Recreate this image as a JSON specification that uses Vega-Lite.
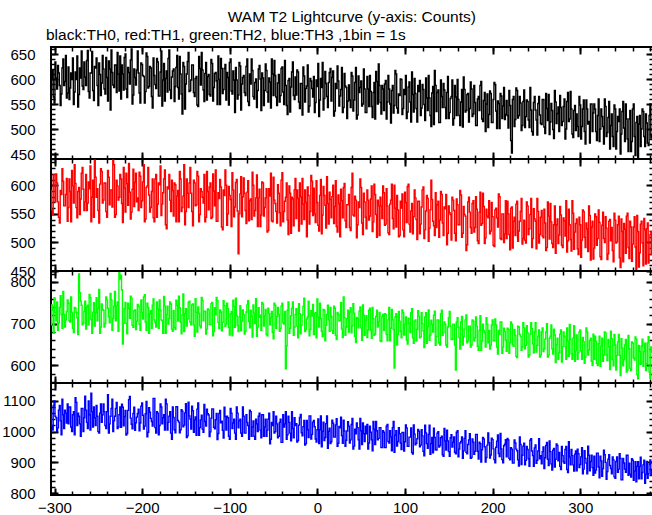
{"$schema":"https://vega.github.io/schema/vega-lite/v6.json","background":"white","padding":{"left":0,"top":10,"right":2,"bottom":2},
"title":{"text":"WAM T2 Lightcurve (y-axis: Counts)","anchor":"middle","offset":1,"dx":24},
"data":{"values":[
{"t":-304,"a":574,"b":591,"c":697,"d":1060},{"t":-302,"a":617,"b":549,"c":732,"d":1005},{"t":-300,"a":552,"b":599,"c":762,"d":1100},{"t":-298,"a":602,"b":620,"c":707,"d":1045},{"t":-296,"a":627,"b":571,"c":684,"d":1012},{"t":-294,"a":587,"b":534,"c":739,"d":1085},{"t":-292,"a":570,"b":584,"c":722,"d":990},{"t":-290,"a":640,"b":607,"c":777,"d":1055},{"t":-288,"a":595,"b":564,"c":692,"d":1070},{"t":-286,"a":562,"b":612,"c":729,"d":1028},
{"t":-284,"a":624,"b":561,"c":749,"d":1025},{"t":-282,"a":582,"b":589,"c":704,"d":1080},{"t":-280,"a":599,"b":626,"c":727,"d":1000},{"t":-278,"a":549,"b":569,"c":679,"d":1065},{"t":-276,"a":614,"b":603,"c":737,"d":1110},{"t":-274,"a":646,"b":543,"c":714,"d":1020},{"t":-272,"a":569,"b":596,"c":819,"d":1050},{"t":-270,"a":602,"b":576,"c":754,"d":985},{"t":-268,"a":586,"b":631,"c":697,"d":1075},{"t":-266,"a":634,"b":556,"c":729,"d":1045},
{"t":-264,"a":587,"b":619,"c":687,"d":1070},{"t":-262,"a":657,"b":569,"c":744,"d":1010},{"t":-260,"a":562,"b":594,"c":770,"d":1055},{"t":-258,"a":612,"b":536,"c":710,"d":1125},{"t":-256,"a":577,"b":609,"c":727,"d":1015},{"t":-254,"a":625,"b":644,"c":694,"d":1045},{"t":-252,"a":642,"b":579,"c":762,"d":1085},{"t":-250,"a":547,"b":556,"c":737,"d":1000},{"t":-248,"a":609,"b":602,"c":677,"d":1060},{"t":-246,"a":592,"b":624,"c":747,"d":1030},
{"t":-244,"a":620,"b":574,"c":732,"d":1090},{"t":-242,"a":570,"b":604,"c":700,"d":1020},{"t":-240,"a":603,"b":544,"c":757,"d":1065},{"t":-238,"a":636,"b":614,"c":717,"d":995},{"t":-236,"a":538,"b":592,"c":772,"d":1050},{"t":-234,"a":613,"b":562,"c":684,"d":1105},{"t":-232,"a":583,"b":636,"c":742,"d":1035},{"t":-230,"a":628,"b":549,"c":707,"d":1075},{"t":-228,"a":653,"b":599,"c":752,"d":1010},{"t":-226,"a":576,"b":579,"c":822,"d":1055},
{"t":-224,"a":560,"b":611,"c":816,"d":1014},{"t":-222,"a":610,"b":535,"c":651,"d":1079},{"t":-220,"a":643,"b":595,"c":736,"d":1049},{"t":-218,"a":580,"b":621,"c":701,"d":989},{"t":-216,"a":623,"b":565,"c":749,"d":1069},{"t":-214,"a":590,"b":588,"c":713,"d":1114},{"t":-212,"a":660,"b":553,"c":761,"d":1024},{"t":-210,"a":568,"b":628,"c":691,"d":1059},{"t":-208,"a":603,"b":605,"c":733,"d":1004},{"t":-206,"a":618,"b":571,"c":706,"d":1047},
{"t":-204,"a":612,"b":556,"c":741,"d":1073},{"t":-202,"a":552,"b":616,"c":684,"d":1028},{"t":-200,"a":629,"b":573,"c":727,"d":1093},{"t":-198,"a":605,"b":636,"c":764,"d":1008},{"t":-196,"a":575,"b":541,"c":704,"d":1058},{"t":-194,"a":645,"b":599,"c":749,"d":983},{"t":-192,"a":585,"b":583,"c":677,"d":1078},{"t":-190,"a":622,"b":561,"c":731,"d":1043},{"t":-188,"a":542,"b":611,"c":744,"d":1018},{"t":-186,"a":607,"b":536,"c":709,"d":1108},
{"t":-184,"a":581,"b":619,"c":692,"d":995},{"t":-182,"a":634,"b":567,"c":735,"d":1060},{"t":-180,"a":566,"b":601,"c":757,"d":1020},{"t":-178,"a":656,"b":547,"c":709,"d":1080},{"t":-176,"a":598,"b":587,"c":677,"d":1045},{"t":-174,"a":556,"b":627,"c":742,"d":1005},{"t":-172,"a":616,"b":524,"c":722,"d":1090},{"t":-170,"a":641,"b":594,"c":699,"d":1030},{"t":-168,"a":578,"b":574,"c":752,"d":1065},{"t":-166,"a":604,"b":609,"c":687,"d":975},
{"t":-164,"a":620,"b":546,"c":731,"d":1046},{"t":-162,"a":585,"b":601,"c":686,"d":996},{"t":-160,"a":647,"b":581,"c":744,"d":1081},{"t":-158,"a":560,"b":536,"c":766,"d":1031},{"t":-156,"a":610,"b":611,"c":704,"d":1006},{"t":-154,"a":530,"b":561,"c":721,"d":1066},{"t":-152,"a":625,"b":636,"c":681,"d":1021},{"t":-150,"a":590,"b":554,"c":736,"d":1091},{"t":-148,"a":635,"b":586,"c":711,"d":986},{"t":-146,"a":575,"b":604,"c":754,"d":1051},
{"t":-144,"a":598,"b":586,"c":697,"d":1008},{"t":-142,"a":628,"b":529,"c":747,"d":1068},{"t":-140,"a":565,"b":604,"c":670,"d":1038},{"t":-138,"a":605,"b":566,"c":727,"d":988},{"t":-136,"a":545,"b":616,"c":740,"d":1093},{"t":-134,"a":621,"b":549,"c":695,"d":1013},{"t":-132,"a":653,"b":589,"c":763,"d":1053},{"t":-130,"a":578,"b":569,"c":707,"d":998},{"t":-128,"a":611,"b":536,"c":730,"d":1033},{"t":-126,"a":558,"b":624,"c":687,"d":1073},
{"t":-124,"a":609,"b":557,"c":733,"d":1054},{"t":-122,"a":566,"b":604,"c":698,"d":999},{"t":-120,"a":631,"b":544,"c":751,"d":1074},{"t":-118,"a":583,"b":590,"c":681,"d":1014},{"t":-116,"a":613,"b":627,"c":721,"d":1039},{"t":-114,"a":549,"b":537,"c":755,"d":974},{"t":-112,"a":599,"b":577,"c":688,"d":1059},{"t":-110,"a":641,"b":597,"c":728,"d":1029},{"t":-108,"a":571,"b":522,"c":703,"d":1004},{"t":-106,"a":621,"b":582,"c":743,"d":1079},
{"t":-104,"a":558,"b":600,"c":699,"d":1005},{"t":-102,"a":603,"b":550,"c":736,"d":1045},{"t":-100,"a":633,"b":582,"c":673,"d":975},{"t":-98,"a":576,"b":528,"c":729,"d":1060},{"t":-96,"a":616,"b":592,"c":756,"d":1028},{"t":-94,"a":533,"b":562,"c":691,"d":995},{"t":-92,"a":598,"b":610,"c":719,"d":1080},{"t":-90,"a":568,"b":480,"c":681,"d":1012},{"t":-88,"a":626,"b":585,"c":743,"d":1040},{"t":-86,"a":590,"b":545,"c":706,"d":985},
{"t":-84,"a":607,"b":613,"c":722,"d":1050},{"t":-82,"a":567,"b":556,"c":682,"d":995},{"t":-80,"a":640,"b":588,"c":745,"d":1030},{"t":-78,"a":547,"b":538,"c":705,"d":975},{"t":-76,"a":590,"b":576,"c":732,"d":1065},{"t":-74,"a":617,"b":623,"c":668,"d":1015},{"t":-72,"a":560,"b":546,"c":725,"d":985},{"t":-70,"a":600,"b":578,"c":760,"d":1040},{"t":-68,"a":577,"b":528,"c":692,"d":1000},{"t":-66,"a":627,"b":593,"c":715,"d":1060},
{"t":-64,"a":537,"b":548,"c":684,"d":980},{"t":-62,"a":602,"b":604,"c":747,"d":1055},{"t":-60,"a":577,"b":561,"c":719,"d":1015},{"t":-58,"a":617,"b":594,"c":674,"d":985},{"t":-56,"a":554,"b":521,"c":737,"d":1040},{"t":-54,"a":594,"b":581,"c":697,"d":960},{"t":-52,"a":640,"b":538,"c":729,"d":1030},{"t":-50,"a":567,"b":614,"c":664,"d":1065},{"t":-48,"a":607,"b":568,"c":744,"d":1000},{"t":-46,"a":547,"b":534,"c":717,"d":1025},
{"t":-44,"a":609,"b":586,"c":722,"d":985},{"t":-42,"a":567,"b":529,"c":689,"d":1040},{"t":-40,"a":624,"b":622,"c":749,"d":965},{"t":-38,"a":549,"b":554,"c":699,"d":1015},{"t":-36,"a":587,"b":579,"c":592,"d":1065},{"t":-34,"a":529,"b":539,"c":732,"d":990},{"t":-32,"a":601,"b":599,"c":677,"d":1030},{"t":-30,"a":584,"b":516,"c":719,"d":970},{"t":-28,"a":634,"b":576,"c":752,"d":1010},{"t":-26,"a":559,"b":592,"c":692,"d":1045},
{"t":-24,"a":568,"b":542,"c":736,"d":1026},{"t":-22,"a":614,"b":577,"c":666,"d":971},{"t":-20,"a":541,"b":604,"c":724,"d":1046},{"t":-18,"a":591,"b":532,"c":696,"d":996},{"t":-16,"a":624,"b":567,"c":741,"d":1016},{"t":-14,"a":554,"b":592,"c":681,"d":956},{"t":-12,"a":586,"b":510,"c":711,"d":1036},{"t":-10,"a":534,"b":582,"c":754,"d":981},{"t":-8,"a":601,"b":554,"c":686,"d":1051},{"t":-6,"a":581,"b":607,"c":718,"d":991},
{"t":-4,"a":605,"b":595,"c":674,"d":1036},{"t":-2,"a":553,"b":535,"c":726,"d":976},{"t":0,"a":585,"b":570,"c":759,"d":1006},{"t":2,"a":525,"b":520,"c":692,"d":961},{"t":4,"a":601,"b":610,"c":712,"d":1051},{"t":6,"a":633,"b":548,"c":669,"d":1001},{"t":8,"a":561,"b":582,"c":732,"d":971},{"t":10,"a":591,"b":525,"c":696,"d":1026},{"t":12,"a":543,"b":568,"c":744,"d":946},{"t":14,"a":613,"b":588,"c":682,"d":1011},
{"t":16,"a":556,"b":543,"c":717,"d":967},{"t":18,"a":616,"b":600,"c":677,"d":1027},{"t":20,"a":536,"b":563,"c":737,"d":982},{"t":22,"a":581,"b":528,"c":662,"d":1042},{"t":24,"a":596,"b":583,"c":722,"d":962},{"t":26,"a":566,"b":510,"c":707,"d":1012},{"t":28,"a":623,"b":573,"c":687,"d":987},{"t":30,"a":543,"b":596,"c":764,"d":1037},{"t":32,"a":586,"b":538,"c":672,"d":952},{"t":34,"a":521,"b":566,"c":712,"d":1002},
{"t":36,"a":588,"b":584,"c":680,"d":1018},{"t":38,"a":543,"b":521,"c":738,"d":973},{"t":40,"a":606,"b":621,"c":695,"d":1043},{"t":42,"a":558,"b":546,"c":725,"d":953},{"t":44,"a":623,"b":574,"c":655,"d":993},{"t":46,"a":528,"b":531,"c":712,"d":1013},{"t":48,"a":573,"b":561,"c":730,"d":943},{"t":50,"a":596,"b":596,"c":690,"d":1003},{"t":52,"a":550,"b":514,"c":745,"d":1028},{"t":54,"a":580,"b":571,"c":672,"d":968},
{"t":56,"a":533,"b":524,"c":719,"d":993},{"t":58,"a":580,"b":574,"c":685,"d":943},{"t":60,"a":607,"b":546,"c":737,"d":1018},{"t":62,"a":545,"b":599,"c":665,"d":973},{"t":64,"a":573,"b":536,"c":712,"d":1033},{"t":66,"a":520,"b":584,"c":675,"d":958},{"t":68,"a":595,"b":509,"c":732,"d":1003},{"t":70,"a":630,"b":564,"c":705,"d":978},{"t":72,"a":553,"b":579,"c":659,"d":1013},{"t":74,"a":587,"b":542,"c":717,"d":948},
{"t":76,"a":537,"b":587,"c":684,"d":998},{"t":78,"a":597,"b":532,"c":722,"d":948},{"t":80,"a":554,"b":564,"c":659,"d":1023},{"t":82,"a":580,"b":514,"c":739,"d":963},{"t":84,"a":512,"b":574,"c":689,"d":983},{"t":86,"a":587,"b":542,"c":709,"d":1013},{"t":88,"a":547,"b":600,"c":594,"d":933},{"t":90,"a":610,"b":527,"c":724,"d":1003},{"t":92,"a":532,"b":557,"c":674,"d":968},{"t":94,"a":567,"b":512,"c":706,"d":993},
{"t":96,"a":599,"b":560,"c":666,"d":942},{"t":98,"a":541,"b":522,"c":726,"d":997},{"t":100,"a":569,"b":588,"c":699,"d":967},{"t":102,"a":521,"b":535,"c":661,"d":1012},{"t":104,"a":584,"b":602,"c":713,"d":952},{"t":106,"a":554,"b":518,"c":679,"d":982},{"t":108,"a":614,"b":568,"c":736,"d":932},{"t":110,"a":534,"b":545,"c":653,"d":1022},{"t":112,"a":571,"b":578,"c":709,"d":957},{"t":114,"a":514,"b":505,"c":686,"d":977},
{"t":116,"a":575,"b":572,"c":718,"d":1001},{"t":118,"a":527,"b":532,"c":668,"d":956},{"t":120,"a":589,"b":592,"c":700,"d":986},{"t":122,"a":549,"b":507,"c":643,"d":921},{"t":124,"a":602,"b":555,"c":726,"d":996},{"t":126,"a":537,"b":577,"c":693,"d":946},{"t":128,"a":562,"b":525,"c":660,"d":1021},{"t":130,"a":505,"b":609,"c":708,"d":961},{"t":132,"a":585,"b":537,"c":680,"d":931},{"t":134,"a":617,"b":512,"c":730,"d":981},
{"t":136,"a":535,"b":526,"c":669,"d":940},{"t":138,"a":578,"b":572,"c":709,"d":1000},{"t":140,"a":513,"b":539,"c":649,"d":955},{"t":142,"a":565,"b":584,"c":732,"d":985},{"t":144,"a":591,"b":512,"c":679,"d":920},{"t":146,"a":543,"b":559,"c":699,"d":970},{"t":148,"a":573,"b":496,"c":644,"d":1005},{"t":150,"a":521,"b":564,"c":714,"d":935},{"t":152,"a":561,"b":549,"c":694,"d":980},{"t":154,"a":598,"b":579,"c":662,"d":950},
{"t":156,"a":521,"b":556,"c":699,"d":983},{"t":158,"a":564,"b":503,"c":589,"d":928},{"t":160,"a":599,"b":566,"c":714,"d":1003},{"t":162,"a":527,"b":531,"c":667,"d":943},{"t":164,"a":554,"b":583,"c":704,"d":968},{"t":166,"a":504,"b":516,"c":649,"d":913},{"t":168,"a":579,"b":549,"c":687,"d":978},{"t":170,"a":537,"b":486,"c":721,"d":933},{"t":172,"a":571,"b":571,"c":659,"d":958},{"t":174,"a":541,"b":553,"c":694,"d":993},
{"t":176,"a":580,"b":516,"c":649,"d":916},{"t":178,"a":530,"b":573,"c":706,"d":966},{"t":180,"a":553,"b":526,"c":666,"d":936},{"t":182,"a":507,"b":558,"c":694,"d":991},{"t":184,"a":565,"b":498,"c":636,"d":911},{"t":186,"a":587,"b":588,"c":719,"d":961},{"t":188,"a":520,"b":533,"c":659,"d":941},{"t":190,"a":557,"b":563,"c":684,"d":976},{"t":192,"a":495,"b":508,"c":644,"d":901},{"t":194,"a":570,"b":546,"c":699,"d":956},
{"t":196,"a":529,"b":573,"c":684,"d":964},{"t":198,"a":571,"b":520,"c":649,"d":924},{"t":200,"a":513,"b":545,"c":709,"d":974},{"t":202,"a":593,"b":493,"c":659,"d":909},{"t":204,"a":536,"b":560,"c":697,"d":949},{"t":206,"a":556,"b":527,"c":627,"d":989},{"t":208,"a":501,"b":580,"c":674,"d":919},{"t":210,"a":566,"b":505,"c":704,"d":944},{"t":212,"a":546,"b":550,"c":644,"d":899},{"t":214,"a":519,"b":515,"c":681,"d":959},
{"t":216,"a":557,"b":507,"c":634,"d":918},{"t":218,"a":502,"b":550,"c":686,"d":973},{"t":220,"a":547,"b":487,"c":654,"d":908},{"t":222,"a":452,"b":562,"c":699,"d":943},{"t":224,"a":565,"b":537,"c":646,"d":898},{"t":226,"a":519,"b":512,"c":672,"d":963},{"t":228,"a":577,"b":572,"c":619,"d":938},{"t":230,"a":527,"b":520,"c":692,"d":888},{"t":232,"a":552,"b":554,"c":669,"d":958},{"t":234,"a":507,"b":497,"c":644,"d":923},
{"t":236,"a":578,"b":539,"c":690,"d":962},{"t":238,"a":525,"b":499,"c":648,"d":907},{"t":240,"a":555,"b":564,"c":678,"d":942},{"t":242,"a":503,"b":524,"c":625,"d":887},{"t":244,"a":538,"b":577,"c":702,"d":977},{"t":246,"a":488,"b":507,"c":652,"d":922},{"t":248,"a":565,"b":541,"c":680,"d":947},{"t":250,"a":518,"b":489,"c":632,"d":897},{"t":252,"a":551,"b":554,"c":670,"d":937},{"t":254,"a":528,"b":514,"c":620,"d":912},
{"t":256,"a":509,"b":556,"c":680,"d":895},{"t":258,"a":559,"b":508,"c":633,"d":950},{"t":260,"a":491,"b":534,"c":663,"d":915},{"t":262,"a":541,"b":491,"c":700,"d":965},{"t":264,"a":569,"b":546,"c":625,"d":890},{"t":266,"a":514,"b":568,"c":670,"d":935},{"t":268,"a":537,"b":498,"c":640,"d":875},{"t":270,"a":481,"b":531,"c":687,"d":945},{"t":272,"a":554,"b":481,"c":607,"d":910},{"t":274,"a":531,"b":541,"c":665,"d":955},
{"t":276,"a":495,"b":513,"c":630,"d":932},{"t":278,"a":543,"b":548,"c":685,"d":877},{"t":280,"a":515,"b":491,"c":645,"d":922},{"t":282,"a":560,"b":538,"c":670,"d":897},{"t":284,"a":500,"b":573,"c":615,"d":952},{"t":286,"a":573,"b":503,"c":658,"d":867},{"t":288,"a":520,"b":531,"c":698,"d":917},{"t":290,"a":540,"b":485,"c":628,"d":942},{"t":292,"a":483,"b":551,"c":665,"d":892},{"t":294,"a":547,"b":518,"c":610,"d":927},
{"t":296,"a":530,"b":541,"c":673,"d":873},{"t":298,"a":485,"b":479,"c":630,"d":928},{"t":300,"a":548,"b":531,"c":685,"d":893},{"t":302,"a":505,"b":504,"c":615,"d":948},{"t":304,"a":558,"b":554,"c":657,"d":878},{"t":306,"a":470,"b":491,"c":620,"d":913},{"t":308,"a":540,"b":524,"c":680,"d":863},{"t":310,"a":515,"b":564,"c":637,"d":923},{"t":312,"a":550,"b":469,"c":665,"d":903},{"t":314,"a":495,"b":537,"c":600,"d":883},
{"t":316,"a":550,"b":490,"c":615,"d":920},{"t":318,"a":495,"b":545,"c":658,"d":875},{"t":320,"a":527,"b":507,"c":600,"d":930},{"t":322,"a":475,"b":535,"c":670,"d":850},{"t":324,"a":540,"b":470,"c":645,"d":905},{"t":326,"a":505,"b":553,"c":610,"d":880},{"t":328,"a":560,"b":500,"c":680,"d":925},{"t":330,"a":485,"b":525,"c":625,"d":845},{"t":332,"a":523,"b":480,"c":662,"d":910},{"t":334,"a":460,"b":540,"c":590,"d":890},
{"t":336,"a":530,"b":526,"c":664,"d":863},{"t":338,"a":465,"b":466,"c":599,"d":908},{"t":340,"a":540,"b":539,"c":649,"d":848},{"t":342,"a":495,"b":501,"c":624,"d":918},{"t":344,"a":515,"b":546,"c":674,"d":878},{"t":346,"a":450,"b":456,"c":576,"d":913},{"t":348,"a":535,"b":519,"c":642,"d":843},{"t":350,"a":502,"b":533,"c":614,"d":898},{"t":352,"a":550,"b":481,"c":662,"d":868},{"t":354,"a":480,"b":551,"c":589,"d":923},
{"t":356,"a":520,"b":472,"c":640,"d":897},{"t":358,"a":455,"b":527,"c":588,"d":852},{"t":360,"a":540,"b":497,"c":653,"d":907},{"t":362,"a":485,"b":545,"c":613,"d":872},{"t":364,"a":513,"b":449,"c":663,"d":837},{"t":366,"a":435,"b":519,"c":568,"d":902},{"t":368,"a":527,"b":482,"c":633,"d":887},{"t":370,"a":500,"b":537,"c":646,"d":847},{"t":372,"a":535,"b":459,"c":598,"d":892},{"t":374,"a":465,"b":522,"c":653,"d":832},
{"t":376,"a":512,"b":524,"c":604,"d":903},{"t":378,"a":467,"b":464,"c":669,"d":863},{"t":380,"a":550,"b":514,"c":569,"d":908},{"t":382,"a":487,"b":479,"c":632,"d":873},
{"t":-303,"a":600,"b":557,"c":745,"d":1020},{"t":-301,"a":564,"b":619,"c":677,"d":1085},{"t":-299,"a":634,"b":571,"c":727,"d":1050},{"t":-297,"a":580,"b":604,"c":752,"d":1000},{"t":-295,"a":612,"b":544,"c":702,"d":1070},{"t":-293,"a":547,"b":591,"c":767,"d":1035},{"t":-291,"a":622,"b":629,"c":689,"d":1105},{"t":-289,"a":587,"b":564,"c":722,"d":1010},{"t":-287,"a":647,"b":584,"c":709,"d":1060},{"t":-285,"a":572,"b":537,"c":757,"d":1090},
{"t":-283,"a":559,"b":611,"c":707,"d":1080},{"t":-281,"a":612,"b":536,"c":764,"d":1015},{"t":-279,"a":642,"b":599,"c":689,"d":1055},{"t":-277,"a":574,"b":636,"c":739,"d":990},{"t":-275,"a":599,"b":561,"c":727,"d":1095},{"t":-273,"a":544,"b":589,"c":674,"d":1060},{"t":-271,"a":622,"b":549,"c":774,"d":1025},{"t":-269,"a":656,"b":621,"c":744,"d":1075},{"t":-267,"a":579,"b":593,"c":701,"d":1000},{"t":-265,"a":604,"b":571,"c":754,"d":1115},
{"t":-263,"a":637,"b":556,"c":740,"d":1030},{"t":-261,"a":575,"b":606,"c":697,"d":1100},{"t":-259,"a":612,"b":634,"c":762,"d":1005},{"t":-257,"a":655,"b":579,"c":677,"d":1065},{"t":-255,"a":557,"b":544,"c":750,"d":1080},{"t":-253,"a":622,"b":614,"c":727,"d":1020},{"t":-251,"a":587,"b":594,"c":707,"d":1050},{"t":-249,"a":632,"b":534,"c":782,"d":995},{"t":-247,"a":567,"b":629,"c":692,"d":1090},{"t":-245,"a":647,"b":569,"c":734,"d":1055},
{"t":-243,"a":580,"b":604,"c":692,"d":1065},{"t":-241,"a":643,"b":554,"c":764,"d":1010},{"t":-239,"a":556,"b":626,"c":737,"d":1120},{"t":-237,"a":620,"b":566,"c":702,"d":1025},{"t":-235,"a":658,"b":592,"c":757,"d":1075},{"t":-233,"a":588,"b":644,"c":712,"d":1000},{"t":-231,"a":628,"b":544,"c":777,"d":1050},{"t":-229,"a":573,"b":609,"c":742,"d":1095},{"t":-227,"a":610,"b":574,"c":682,"d":1015},{"t":-225,"a":646,"b":619,"c":807,"d":1080},
{"t":-223,"a":628,"b":568,"c":781,"d":1089},{"t":-221,"a":578,"b":631,"c":701,"d":1019},{"t":-219,"a":650,"b":553,"c":751,"d":1069},{"t":-217,"a":563,"b":603,"c":676,"d":994},{"t":-215,"a":613,"b":638,"c":736,"d":1104},{"t":-213,"a":638,"b":541,"c":766,"d":1044},{"t":-211,"a":550,"b":593,"c":696,"d":1009},{"t":-209,"a":620,"b":563,"c":731,"d":1079},{"t":-207,"a":588,"b":621,"c":686,"d":1029},{"t":-205,"a":656,"b":578,"c":746,"d":1059},
{"t":-203,"a":572,"b":623,"c":699,"d":1003},{"t":-201,"a":632,"b":561,"c":757,"d":1083},{"t":-199,"a":607,"b":606,"c":711,"d":1053},{"t":-197,"a":552,"b":536,"c":769,"d":1018},{"t":-195,"a":652,"b":596,"c":684,"d":1098},{"t":-193,"a":582,"b":631,"c":739,"d":998},{"t":-191,"a":625,"b":553,"c":724,"d":1063},{"t":-189,"a":565,"b":589,"c":689,"d":1033},{"t":-187,"a":642,"b":543,"c":759,"d":1108},{"t":-185,"a":589,"b":611,"c":704,"d":1013},
{"t":-183,"a":641,"b":544,"c":752,"d":1065},{"t":-181,"a":566,"b":604,"c":689,"d":990},{"t":-179,"a":614,"b":634,"c":732,"d":1090},{"t":-177,"a":546,"b":567,"c":707,"d":1025},{"t":-175,"a":631,"b":611,"c":765,"d":1055},{"t":-173,"a":601,"b":531,"c":677,"d":1105},{"t":-171,"a":574,"b":597,"c":742,"d":1005},{"t":-169,"a":658,"b":619,"c":712,"d":1050},{"t":-167,"a":561,"b":554,"c":747,"d":995},{"t":-165,"a":616,"b":591,"c":682,"d":1080},
{"t":-163,"a":555,"b":604,"c":691,"d":1006},{"t":-161,"a":623,"b":536,"c":756,"d":1081},{"t":-159,"a":583,"b":591,"c":706,"d":1036},{"t":-157,"a":645,"b":624,"c":738,"d":996},{"t":-155,"a":570,"b":554,"c":676,"d":1071},{"t":-153,"a":633,"b":581,"c":771,"d":1016},{"t":-151,"a":540,"b":531,"c":724,"d":1061},{"t":-149,"a":610,"b":611,"c":694,"d":981},{"t":-147,"a":653,"b":561,"c":751,"d":1096},{"t":-145,"a":577,"b":631,"c":704,"d":1041},
{"t":-143,"a":628,"b":554,"c":745,"d":1083},{"t":-141,"a":573,"b":609,"c":697,"d":998},{"t":-139,"a":601,"b":564,"c":760,"d":1048},{"t":-137,"a":548,"b":624,"c":680,"d":1073},{"t":-135,"a":645,"b":536,"c":725,"d":988},{"t":-133,"a":588,"b":594,"c":690,"d":1038},{"t":-131,"a":618,"b":579,"c":755,"d":1008},{"t":-129,"a":555,"b":619,"c":730,"d":1088},{"t":-127,"a":633,"b":544,"c":675,"d":1018},{"t":-125,"a":605,"b":589,"c":735,"d":1058},
{"t":-123,"a":569,"b":597,"c":698,"d":984},{"t":-121,"a":639,"b":542,"c":748,"d":1044},{"t":-119,"a":556,"b":620,"c":671,"d":1074},{"t":-117,"a":611,"b":564,"c":738,"d":1009},{"t":-115,"a":596,"b":537,"c":763,"d":1059},{"t":-113,"a":646,"b":587,"c":703,"d":994},{"t":-111,"a":549,"b":610,"c":733,"d":1069},{"t":-109,"a":621,"b":527,"c":683,"d":1034},{"t":-107,"a":579,"b":592,"c":755,"d":979},{"t":-105,"a":629,"b":627,"c":693,"d":1049},
{"t":-103,"a":613,"b":530,"c":749,"d":1050},{"t":-101,"a":548,"b":598,"c":691,"d":985},{"t":-99,"a":640,"b":575,"c":723,"d":1075},{"t":-97,"a":570,"b":622,"c":671,"d":1010},{"t":-95,"a":598,"b":545,"c":741,"d":1040},{"t":-93,"a":623,"b":605,"c":761,"d":975},{"t":-91,"a":560,"b":555,"c":696,"d":1060},{"t":-89,"a":633,"b":550,"c":716,"d":1035},{"t":-87,"a":538,"b":615,"c":683,"d":995},{"t":-85,"a":603,"b":580,"c":733,"d":1080},
{"t":-83,"a":573,"b":586,"c":675,"d":995},{"t":-81,"a":625,"b":533,"c":728,"d":1055},{"t":-79,"a":555,"b":608,"c":755,"d":1020},{"t":-77,"a":610,"b":573,"c":690,"d":1070},{"t":-75,"a":640,"b":540,"c":718,"d":985},{"t":-73,"a":565,"b":600,"c":745,"d":1035},{"t":-71,"a":593,"b":556,"c":700,"d":975},{"t":-69,"a":543,"b":618,"c":670,"d":1025},{"t":-67,"a":620,"b":578,"c":738,"d":1050},{"t":-65,"a":600,"b":528,"c":720,"d":1005},
{"t":-63,"a":612,"b":606,"c":751,"d":1055},{"t":-61,"a":547,"b":546,"c":694,"d":985},{"t":-59,"a":630,"b":578,"c":734,"d":1040},{"t":-57,"a":574,"b":518,"c":671,"d":1005},{"t":-55,"a":602,"b":594,"c":724,"d":1060},{"t":-53,"a":542,"b":621,"c":714,"d":975},{"t":-51,"a":610,"b":536,"c":679,"d":1020},{"t":-49,"a":637,"b":574,"c":749,"d":995},{"t":-47,"a":564,"b":554,"c":689,"d":1050},{"t":-45,"a":592,"b":601,"c":739,"d":980},
{"t":-43,"a":554,"b":552,"c":682,"d":1030},{"t":-41,"a":621,"b":609,"c":742,"d":965},{"t":-39,"a":574,"b":536,"c":702,"d":1055},{"t":-37,"a":637,"b":572,"c":729,"d":1025},{"t":-35,"a":547,"b":604,"c":647,"d":975},{"t":-33,"a":597,"b":514,"c":752,"d":1050},{"t":-31,"a":534,"b":586,"c":689,"d":995},{"t":-29,"a":614,"b":579,"c":737,"d":1065},{"t":-27,"a":567,"b":529,"c":672,"d":980},{"t":-25,"a":604,"b":612,"c":722,"d":1020},
{"t":-23,"a":618,"b":592,"c":694,"d":966},{"t":-21,"a":554,"b":520,"c":748,"d":1021},{"t":-19,"a":591,"b":580,"c":676,"d":1056},{"t":-17,"a":528,"b":612,"c":721,"d":986},{"t":-15,"a":606,"b":540,"c":761,"d":1036},{"t":-13,"a":581,"b":570,"c":686,"d":961},{"t":-11,"a":628,"b":597,"c":716,"d":1006},{"t":-9,"a":546,"b":532,"c":671,"d":1051},{"t":-7,"a":596,"b":617,"c":731,"d":976},{"t":-5,"a":564,"b":547,"c":746,"d":1031},
{"t":-3,"a":533,"b":550,"c":724,"d":1016},{"t":-1,"a":598,"b":608,"c":666,"d":966},{"t":1,"a":631,"b":530,"c":716,"d":1041},{"t":3,"a":558,"b":582,"c":749,"d":1006},{"t":5,"a":583,"b":515,"c":682,"d":951},{"t":7,"a":538,"b":598,"c":734,"d":1031},{"t":9,"a":615,"b":565,"c":659,"d":981},{"t":11,"a":565,"b":615,"c":722,"d":1051},{"t":13,"a":593,"b":532,"c":709,"d":1001},{"t":15,"a":621,"b":575,"c":739,"d":961},
{"t":17,"a":603,"b":580,"c":684,"d":1037},{"t":19,"a":526,"b":533,"c":742,"d":982},{"t":21,"a":591,"b":608,"c":672,"d":1022},{"t":23,"a":626,"b":518,"c":727,"d":952},{"t":25,"a":546,"b":568,"c":707,"d":1017},{"t":27,"a":579,"b":593,"c":750,"d":1047},{"t":29,"a":533,"b":543,"c":667,"d":962},{"t":31,"a":611,"b":603,"c":714,"d":1002},{"t":33,"a":583,"b":526,"c":692,"d":972},{"t":35,"a":556,"b":566,"c":732,"d":1032},
{"t":37,"a":558,"b":526,"c":728,"d":963},{"t":39,"a":613,"b":596,"c":678,"d":1023},{"t":41,"a":536,"b":548,"c":748,"d":943},{"t":43,"a":593,"b":581,"c":670,"d":1008},{"t":45,"a":520,"b":508,"c":715,"d":1028},{"t":47,"a":606,"b":571,"c":690,"d":973},{"t":49,"a":583,"b":611,"c":740,"d":1043},{"t":51,"a":546,"b":534,"c":660,"d":958},{"t":53,"a":620,"b":586,"c":720,"d":993},{"t":55,"a":533,"b":544,"c":708,"d":1018},
{"t":57,"a":605,"b":592,"c":667,"d":1023},{"t":59,"a":545,"b":539,"c":732,"d":963},{"t":61,"a":575,"b":576,"c":685,"d":998},{"t":63,"a":523,"b":519,"c":739,"d":938},{"t":65,"a":593,"b":602,"c":672,"d":1008},{"t":67,"a":615,"b":549,"c":717,"d":1033},{"t":69,"a":550,"b":574,"c":692,"d":973},{"t":71,"a":587,"b":512,"c":727,"d":1013},{"t":73,"a":530,"b":564,"c":657,"d":948},{"t":75,"a":580,"b":599,"c":722,"d":1003},
{"t":77,"a":590,"b":530,"c":724,"d":948},{"t":79,"a":520,"b":594,"c":674,"d":1018},{"t":81,"a":607,"b":517,"c":709,"d":968},{"t":83,"a":550,"b":567,"c":659,"d":1003},{"t":85,"a":577,"b":602,"c":734,"d":938},{"t":87,"a":532,"b":524,"c":686,"d":1033},{"t":89,"a":617,"b":560,"c":716,"d":988},{"t":91,"a":542,"b":582,"c":649,"d":953},{"t":93,"a":570,"b":510,"c":729,"d":1013},{"t":95,"a":600,"b":572,"c":682,"d":963},
{"t":97,"a":529,"b":585,"c":733,"d":997},{"t":99,"a":579,"b":510,"c":673,"d":937},{"t":101,"a":607,"b":570,"c":716,"d":1022},{"t":103,"a":534,"b":598,"c":651,"d":952},{"t":105,"a":594,"b":532,"c":701,"d":982},{"t":107,"a":514,"b":555,"c":726,"d":1012},{"t":109,"a":569,"b":515,"c":666,"d":927},{"t":111,"a":601,"b":592,"c":706,"d":992},{"t":113,"a":541,"b":540,"c":659,"d":962},{"t":115,"a":587,"b":572,"c":731,"d":1007},
{"t":117,"a":597,"b":515,"c":666,"d":951},{"t":119,"a":542,"b":562,"c":726,"d":1006},{"t":121,"a":579,"b":597,"c":683,"d":936},{"t":123,"a":517,"b":522,"c":716,"d":1021},{"t":125,"a":562,"b":582,"c":653,"d":961},{"t":127,"a":607,"b":502,"c":733,"d":991},{"t":129,"a":527,"b":557,"c":673,"d":926},{"t":131,"a":572,"b":575,"c":698,"d":981},{"t":133,"a":509,"b":529,"c":720,"d":1011},{"t":135,"a":587,"b":587,"c":648,"d":941},
{"t":137,"a":573,"b":566,"c":709,"d":995},{"t":139,"a":513,"b":509,"c":654,"d":950},{"t":141,"a":598,"b":589,"c":724,"d":980},{"t":143,"a":543,"b":534,"c":672,"d":925},{"t":145,"a":578,"b":562,"c":704,"d":1010},{"t":147,"a":521,"b":584,"c":649,"d":940},{"t":149,"a":605,"b":516,"c":692,"d":970},{"t":151,"a":533,"b":552,"c":729,"d":920},{"t":153,"a":565,"b":504,"c":662,"d":990},{"t":155,"a":508,"b":574,"c":699,"d":965},
{"t":157,"a":587,"b":516,"c":649,"d":933},{"t":159,"a":527,"b":576,"c":704,"d":998},{"t":161,"a":559,"b":531,"c":691,"d":918},{"t":163,"a":507,"b":591,"c":639,"d":963},{"t":165,"a":579,"b":509,"c":717,"d":983},{"t":167,"a":604,"b":563,"c":669,"d":938},{"t":169,"a":534,"b":546,"c":709,"d":1003},{"t":171,"a":569,"b":496,"c":654,"d":928},{"t":173,"a":514,"b":579,"c":694,"d":973},{"t":175,"a":594,"b":526,"c":644,"d":913},
{"t":177,"a":525,"b":568,"c":709,"d":976},{"t":179,"a":587,"b":518,"c":659,"d":926},{"t":181,"a":507,"b":580,"c":716,"d":991},{"t":183,"a":560,"b":503,"c":646,"d":936},{"t":185,"a":537,"b":553,"c":684,"d":966},{"t":187,"a":595,"b":530,"c":636,"d":901},{"t":189,"a":515,"b":586,"c":699,"d":981},{"t":191,"a":573,"b":498,"c":679,"d":951},{"t":193,"a":550,"b":558,"c":714,"d":916},{"t":195,"a":503,"b":543,"c":654,"d":996},
{"t":197,"a":576,"b":515,"c":639,"d":914},{"t":199,"a":513,"b":570,"c":697,"d":979},{"t":201,"a":559,"b":495,"c":659,"d":944},{"t":203,"a":589,"b":557,"c":711,"d":899},{"t":205,"a":501,"b":543,"c":644,"d":969},{"t":207,"a":551,"b":585,"c":684,"d":929},{"t":209,"a":571,"b":507,"c":704,"d":994},{"t":211,"a":521,"b":550,"c":629,"d":909},{"t":213,"a":583,"b":500,"c":689,"d":954},{"t":215,"a":529,"b":573,"c":661,"d":974},
{"t":217,"a":527,"b":572,"c":689,"d":978},{"t":219,"a":577,"b":514,"c":629,"d":913},{"t":221,"a":477,"b":560,"c":704,"d":948},{"t":223,"a":559,"b":490,"c":649,"d":898},{"t":225,"a":505,"b":544,"c":686,"d":973},{"t":227,"a":582,"b":567,"c":622,"d":943},{"t":229,"a":522,"b":502,"c":694,"d":908},{"t":231,"a":565,"b":537,"c":674,"d":983},{"t":233,"a":497,"b":577,"c":636,"d":893},{"t":235,"a":555,"b":507,"c":702,"d":953},
{"t":237,"a":503,"b":504,"c":640,"d":892},{"t":239,"a":558,"b":571,"c":695,"d":952},{"t":241,"a":518,"b":514,"c":620,"d":912},{"t":243,"a":583,"b":549,"c":675,"d":972},{"t":245,"a":495,"b":491,"c":688,"d":937},{"t":247,"a":553,"b":559,"c":630,"d":887},{"t":249,"a":538,"b":537,"c":702,"d":957},{"t":251,"a":488,"b":577,"c":648,"d":907},{"t":253,"a":565,"b":499,"c":685,"d":977},{"t":255,"a":511,"b":544,"c":625,"d":922},
{"t":257,"a":559,"b":511,"c":690,"d":935},{"t":259,"a":504,"b":558,"c":640,"d":880},{"t":261,"a":571,"b":486,"c":680,"d":955},{"t":263,"a":517,"b":571,"c":620,"d":910},{"t":265,"a":489,"b":506,"c":665,"d":970},{"t":267,"a":551,"b":536,"c":697,"d":895},{"t":269,"a":499,"b":491,"c":627,"d":940},{"t":271,"a":577,"b":564,"c":673,"d":885},{"t":273,"a":511,"b":531,"c":650,"d":960},{"t":275,"a":544,"b":498,"c":615,"d":905},
{"t":277,"a":567,"b":563,"c":675,"d":887},{"t":279,"a":507,"b":495,"c":608,"d":952},{"t":281,"a":545,"b":543,"c":680,"d":902},{"t":283,"a":480,"b":511,"c":645,"d":942},{"t":285,"a":555,"b":483,"c":690,"d":877},{"t":287,"a":515,"b":558,"c":622,"d":967},{"t":289,"a":575,"b":505,"c":662,"d":892},{"t":291,"a":490,"b":573,"c":615,"d":922},{"t":293,"a":537,"b":488,"c":695,"d":872},{"t":295,"a":497,"b":533,"c":635,"d":937},
{"t":297,"a":505,"b":489,"c":615,"d":943},{"t":299,"a":565,"b":544,"c":680,"d":883},{"t":301,"a":480,"b":474,"c":635,"d":918},{"t":303,"a":540,"b":557,"c":667,"d":863},{"t":305,"a":495,"b":509,"c":605,"d":938},{"t":307,"a":558,"b":534,"c":690,"d":898},{"t":309,"a":510,"b":484,"c":625,"d":953},{"t":311,"a":472,"b":547,"c":660,"d":873},{"t":313,"a":550,"b":527,"c":610,"d":923},{"t":315,"a":532,"b":471,"c":675,"d":858},
{"t":317,"a":540,"b":550,"c":670,"d":865},{"t":319,"a":477,"b":495,"c":605,"d":930},{"t":321,"a":560,"b":557,"c":652,"d":885},{"t":323,"a":500,"b":475,"c":598,"d":920},{"t":325,"a":525,"b":530,"c":665,"d":855},{"t":327,"a":470,"b":507,"c":625,"d":940},{"t":329,"a":545,"b":545,"c":678,"d":900},{"t":331,"a":493,"b":470,"c":612,"d":870},{"t":333,"a":555,"b":537,"c":645,"d":925},{"t":335,"a":507,"b":503,"c":682,"d":880},
{"t":337,"a":485,"b":486,"c":614,"d":918},{"t":339,"a":548,"b":551,"c":674,"d":853},{"t":341,"a":460,"b":499,"c":589,"d":903},{"t":343,"a":525,"b":531,"c":656,"d":868},{"t":345,"a":540,"b":473,"c":624,"d":928},{"t":347,"a":490,"b":541,"c":664,"d":843},{"t":349,"a":555,"b":466,"c":599,"d":913},{"t":351,"a":475,"b":523,"c":649,"d":878},{"t":353,"a":520,"b":546,"c":584,"d":923},{"t":355,"a":455,"b":491,"c":672,"d":858},
{"t":357,"a":537,"b":537,"c":593,"d":862},{"t":359,"a":475,"b":467,"c":656,"d":912},{"t":361,"a":550,"b":527,"c":618,"d":842},{"t":363,"a":447,"b":492,"c":668,"d":902},{"t":365,"a":525,"b":547,"c":578,"d":887},{"t":367,"a":510,"b":457,"c":648,"d":847},{"t":369,"a":465,"b":532,"c":603,"d":917},{"t":371,"a":540,"b":499,"c":663,"d":867},{"t":373,"a":485,"b":542,"c":633,"d":907},{"t":375,"a":530,"b":462,"c":588,"d":862},
{"t":377,"a":472,"b":534,"c":654,"d":848},{"t":379,"a":527,"b":479,"c":584,"d":893},{"t":381,"a":482,"b":519,"c":644,"d":858}
]},
"spacing":0,
"bounds":"flush",
"vconcat":[
{"width":602,"height":112,
 "title":{"text":"black:TH0, red:TH1, green:TH2, blue:TH3 ,1bin = 1s","anchor":"start","frame":"group","offset":3,"dx":-5},
 "layer":[
  {"mark":{"type":"line","interpolate":"step","color":"#000000","strokeWidth":1.4,"clip":true},
   "encoding":{"x":{"field":"t","type":"quantitative","scale":{"domain":[-304,383],"nice":false,"zero":false},"axis":{"orient":"bottom","title":null,"values":[-300,-200,-100,0,100,200,300],"tickSize":-7,"tickWidth":2}},
    "y":{"field":"a","type":"quantitative","scale":{"domain":[440,664],"nice":false,"zero":false},"axis":{"orient":"left","title":null,"values":[450,500,550,600,650],"format":"d","tickSize":-7,"tickWidth":2,"labels":true,"labelPadding":23,"minExtent":46,"maxExtent":46}}}},
  {"mark":{"type":"line","opacity":0},
   "encoding":{"x":{"field":"t","type":"quantitative","scale":{"domain":[-304,383],"nice":false,"zero":false},"axis":{"orient":"bottom","title":null,"values":[-300,-280,-260,-240,-220,-200,-180,-160,-140,-120,-100,-80,-60,-40,-20,0,20,40,60,80,100,120,140,160,180,200,220,240,260,280,300,320,340,360,380]}},
    "y":{"field":"a","type":"quantitative","scale":{"domain":[440,664],"nice":false,"zero":false},"axis":{"orient":"left","title":null,"values":[440,450,460,470,480,490,500,510,520,530,540,550,560,570,580,590,600,610,620,630,640,650,660]}}}},
  {"mark":{"type":"line","opacity":0},
   "encoding":{"x":{"field":"t","type":"quantitative","scale":{"domain":[-304,383],"nice":false,"zero":false},"axis":{"orient":"top","title":null,"values":[-300,-200,-100,0,100,200,300],"tickSize":-7,"tickWidth":2}},
    "y":{"field":"a","type":"quantitative","scale":{"domain":[440,664],"nice":false,"zero":false},"axis":{"orient":"right","title":null,"values":[450,500,550,600,650],"tickSize":-7,"tickWidth":2}}}},
  {"mark":{"type":"line","opacity":0},
   "encoding":{"x":{"field":"t","type":"quantitative","scale":{"domain":[-304,383],"nice":false,"zero":false},"axis":{"orient":"top","title":null,"values":[-300,-280,-260,-240,-220,-200,-180,-160,-140,-120,-100,-80,-60,-40,-20,0,20,40,60,80,100,120,140,160,180,200,220,240,260,280,300,320,340,360,380]}},
    "y":{"field":"a","type":"quantitative","scale":{"domain":[440,664],"nice":false,"zero":false},"axis":{"orient":"right","title":null,"values":[440,450,460,470,480,490,500,510,520,530,540,550,560,570,580,590,600,610,620,630,640,650,660]}}}}
 ],
 "resolve":{"axis":{"x":"independent","y":"independent"}}},
{"width":602,"height":112,
 "layer":[
  {"mark":{"type":"line","interpolate":"step","color":"#ff0000","strokeWidth":1.4,"clip":true},
   "encoding":{"x":{"field":"t","type":"quantitative","scale":{"domain":[-304,383],"nice":false,"zero":false},"axis":{"orient":"bottom","title":null,"values":[-300,-200,-100,0,100,200,300],"tickSize":-7,"tickWidth":2}},
    "y":{"field":"b","type":"quantitative","scale":{"domain":[450,646],"nice":false,"zero":false},"axis":{"orient":"left","title":null,"values":[450,500,550,600],"format":"d","tickSize":-7,"tickWidth":2,"labels":true,"labelPadding":23,"minExtent":46,"maxExtent":46}}}},
  {"mark":{"type":"line","opacity":0},
   "encoding":{"x":{"field":"t","type":"quantitative","scale":{"domain":[-304,383],"nice":false,"zero":false},"axis":{"orient":"bottom","title":null,"values":[-300,-280,-260,-240,-220,-200,-180,-160,-140,-120,-100,-80,-60,-40,-20,0,20,40,60,80,100,120,140,160,180,200,220,240,260,280,300,320,340,360,380]}},
    "y":{"field":"b","type":"quantitative","scale":{"domain":[450,646],"nice":false,"zero":false},"axis":{"orient":"left","title":null,"values":[450,460,470,480,490,500,510,520,530,540,550,560,570,580,590,600,610,620,630,640]}}}},
  {"mark":{"type":"line","opacity":0},
   "encoding":{"x":{"field":"t","type":"quantitative","scale":{"domain":[-304,383],"nice":false,"zero":false},"axis":{"orient":"top","title":null,"values":[-300,-200,-100,0,100,200,300],"tickSize":-7,"tickWidth":2}},
    "y":{"field":"b","type":"quantitative","scale":{"domain":[450,646],"nice":false,"zero":false},"axis":{"orient":"right","title":null,"values":[450,500,550,600],"tickSize":-7,"tickWidth":2}}}},
  {"mark":{"type":"line","opacity":0},
   "encoding":{"x":{"field":"t","type":"quantitative","scale":{"domain":[-304,383],"nice":false,"zero":false},"axis":{"orient":"top","title":null,"values":[-300,-280,-260,-240,-220,-200,-180,-160,-140,-120,-100,-80,-60,-40,-20,0,20,40,60,80,100,120,140,160,180,200,220,240,260,280,300,320,340,360,380]}},
    "y":{"field":"b","type":"quantitative","scale":{"domain":[450,646],"nice":false,"zero":false},"axis":{"orient":"right","title":null,"values":[450,460,470,480,490,500,510,520,530,540,550,560,570,580,590,600,610,620,630,640]}}}}
 ],
 "resolve":{"axis":{"x":"independent","y":"independent"}}},
{"width":602,"height":112,
 "layer":[
  {"mark":{"type":"line","interpolate":"step","color":"#00ff00","strokeWidth":1.4,"clip":true},
   "encoding":{"x":{"field":"t","type":"quantitative","scale":{"domain":[-304,383],"nice":false,"zero":false},"axis":{"orient":"bottom","title":null,"values":[-300,-200,-100,0,100,200,300],"tickSize":-7,"tickWidth":2}},
    "y":{"field":"c","type":"quantitative","scale":{"domain":[558,826],"nice":false,"zero":false},"axis":{"orient":"left","title":null,"values":[600,700,800],"format":"d","tickSize":-7,"tickWidth":2,"labels":true,"labelPadding":23,"minExtent":46,"maxExtent":46}}}},
  {"mark":{"type":"line","opacity":0},
   "encoding":{"x":{"field":"t","type":"quantitative","scale":{"domain":[-304,383],"nice":false,"zero":false},"axis":{"orient":"bottom","title":null,"values":[-300,-280,-260,-240,-220,-200,-180,-160,-140,-120,-100,-80,-60,-40,-20,0,20,40,60,80,100,120,140,160,180,200,220,240,260,280,300,320,340,360,380]}},
    "y":{"field":"c","type":"quantitative","scale":{"domain":[558,826],"nice":false,"zero":false},"axis":{"orient":"left","title":null,"values":[560,580,600,620,640,660,680,700,720,740,760,780,800,820]}}}},
  {"mark":{"type":"line","opacity":0},
   "encoding":{"x":{"field":"t","type":"quantitative","scale":{"domain":[-304,383],"nice":false,"zero":false},"axis":{"orient":"top","title":null,"values":[-300,-200,-100,0,100,200,300],"tickSize":-7,"tickWidth":2}},
    "y":{"field":"c","type":"quantitative","scale":{"domain":[558,826],"nice":false,"zero":false},"axis":{"orient":"right","title":null,"values":[600,700,800],"tickSize":-7,"tickWidth":2}}}},
  {"mark":{"type":"line","opacity":0},
   "encoding":{"x":{"field":"t","type":"quantitative","scale":{"domain":[-304,383],"nice":false,"zero":false},"axis":{"orient":"top","title":null,"values":[-300,-280,-260,-240,-220,-200,-180,-160,-140,-120,-100,-80,-60,-40,-20,0,20,40,60,80,100,120,140,160,180,200,220,240,260,280,300,320,340,360,380]}},
    "y":{"field":"c","type":"quantitative","scale":{"domain":[558,826],"nice":false,"zero":false},"axis":{"orient":"right","title":null,"values":[560,580,600,620,640,660,680,700,720,740,760,780,800,820]}}}}
 ],
 "resolve":{"axis":{"x":"independent","y":"independent"}}},
{"width":602,"height":112,
 "layer":[
  {"mark":{"type":"line","interpolate":"step","color":"#0000ff","strokeWidth":1.4,"clip":true},
   "encoding":{"x":{"field":"t","type":"quantitative","scale":{"domain":[-304,383],"nice":false,"zero":false},"axis":{"orient":"bottom","title":null,"values":[-300,-200,-100,0,100,200,300],"tickSize":-7,"tickWidth":2,"labels":true,"labelPadding":12}},
    "y":{"field":"d","type":"quantitative","scale":{"domain":[794,1158],"nice":false,"zero":false},"axis":{"orient":"left","title":null,"values":[800,900,1000,1100],"format":"d","tickSize":-7,"tickWidth":2,"labels":true,"labelPadding":23,"minExtent":46,"maxExtent":46}}}},
  {"mark":{"type":"line","opacity":0},
   "encoding":{"x":{"field":"t","type":"quantitative","scale":{"domain":[-304,383],"nice":false,"zero":false},"axis":{"orient":"bottom","title":null,"values":[-300,-280,-260,-240,-220,-200,-180,-160,-140,-120,-100,-80,-60,-40,-20,0,20,40,60,80,100,120,140,160,180,200,220,240,260,280,300,320,340,360,380]}},
    "y":{"field":"d","type":"quantitative","scale":{"domain":[794,1158],"nice":false,"zero":false},"axis":{"orient":"left","title":null,"values":[800,820,840,860,880,900,920,940,960,980,1000,1020,1040,1060,1080,1100,1120,1140]}}}},
  {"mark":{"type":"line","opacity":0},
   "encoding":{"x":{"field":"t","type":"quantitative","scale":{"domain":[-304,383],"nice":false,"zero":false},"axis":{"orient":"top","title":null,"values":[-300,-200,-100,0,100,200,300],"tickSize":-7,"tickWidth":2}},
    "y":{"field":"d","type":"quantitative","scale":{"domain":[794,1158],"nice":false,"zero":false},"axis":{"orient":"right","title":null,"values":[800,900,1000,1100],"tickSize":-7,"tickWidth":2}}}},
  {"mark":{"type":"line","opacity":0},
   "encoding":{"x":{"field":"t","type":"quantitative","scale":{"domain":[-304,383],"nice":false,"zero":false},"axis":{"orient":"top","title":null,"values":[-300,-280,-260,-240,-220,-200,-180,-160,-140,-120,-100,-80,-60,-40,-20,0,20,40,60,80,100,120,140,160,180,200,220,240,260,280,300,320,340,360,380]}},
    "y":{"field":"d","type":"quantitative","scale":{"domain":[794,1158],"nice":false,"zero":false},"axis":{"orient":"right","title":null,"values":[800,820,840,860,880,900,920,940,960,980,1000,1020,1040,1060,1080,1100,1120,1140]}}}}
 ],
 "resolve":{"axis":{"x":"independent","y":"independent"}}}
],
"config":{
 "view":{"stroke":"#000000","strokeWidth":2},
 "axis":{"domain":false,"grid":false,"labels":false,"tickSize":-4,"tickWidth":1.5,"tickColor":"#000000","labelColor":"#000000","labelFont":"Liberation Sans","labelFontSize":15},
 "title":{"font":"Liberation Sans","fontSize":15.5,"fontWeight":"normal","color":"#000000"}
}}
